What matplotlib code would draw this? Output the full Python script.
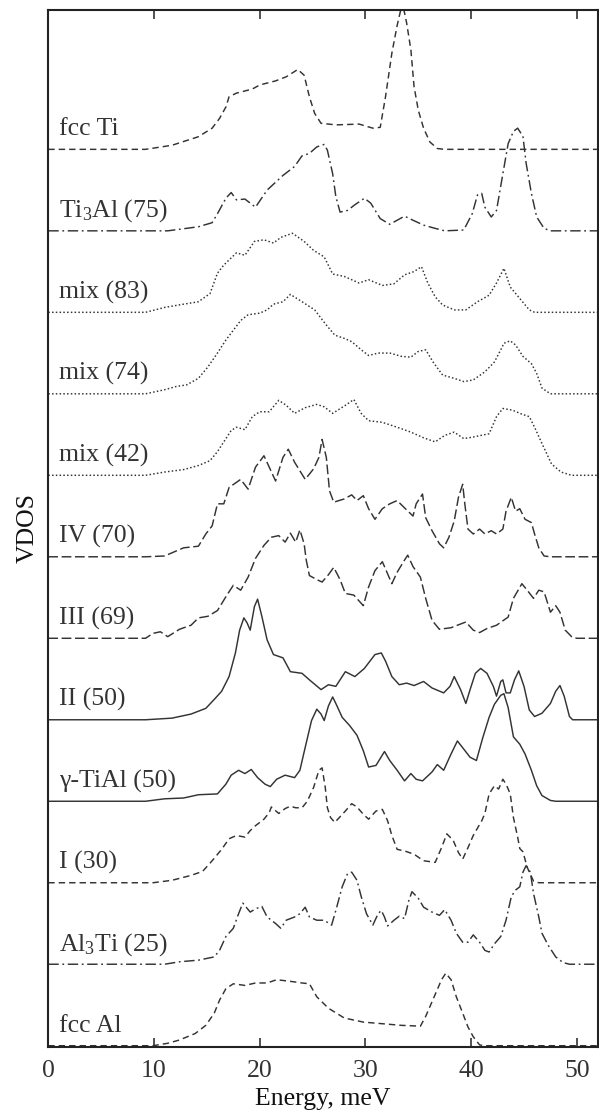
import numpy as np
import matplotlib
matplotlib.use("Agg")
import matplotlib.pyplot as plt

plt.rcParams['font.family'] = ['Liberation Serif', 'DejaVu Serif']
plt.rcParams['mathtext.fontset'] = 'custom'
plt.rcParams['mathtext.rm'] = 'Liberation Serif'
plt.rcParams['mathtext.it'] = 'Liberation Serif:italic'
plt.rcParams['lines.scale_dashes'] = False

# ---- data: (energy meV, VDOS in units of the stacking offset) ----
pts_fcc_ti = [(0,0),(9.2,0),(11.7,0.05),(14.2,0.155),(15.5,0.26),(16.2,0.38),(16.8,0.52),(17.1,0.645),(17.8,0.69),(19.3,0.74),(20.0,0.79),(21.5,0.84),(22.5,0.89),(23.6,0.98),(24.2,0.91),(24.7,0.645),(25.2,0.44),(25.8,0.32),(27.2,0.30),(29.4,0.31),(30.7,0.26),(31.4,0.27),(31.9,0.645),(32.5,1.18),(33.0,1.52),(33.5,1.80),(33.9,1.55),(34.3,1.22),(34.6,0.77),(35.0,0.48),(35.5,0.26),(36.1,0.09),(36.8,0.01),(37.5,0),(52,0)]

pts_ti3al = [(0,0),(11.3,0),(14.2,0.05),(15.5,0.10),(16.0,0.21),(16.8,0.40),(17.3,0.47),(17.8,0.38),(18.6,0.39),(19.6,0.29),(20.7,0.50),(22.2,0.68),(23.3,0.79),(24.0,0.92),(24.7,0.95),(25.4,1.03),(26.1,1.06),(26.4,0.99),(26.9,0.70),(27.2,0.42),(27.6,0.23),(28.3,0.25),(29.0,0.32),(29.9,0.40),(30.5,0.34),(31.4,0.15),(32.3,0.08),(33.0,0.13),(33.7,0.18),(34.5,0.13),(35.5,0.07),(36.6,0.03),(37.5,0),(39.3,0.01),(40.1,0.21),(40.6,0.44),(41.0,0.46),(41.3,0.29),(41.9,0.17),(42.4,0.25),(43.0,0.70),(43.5,1.07),(44.0,1.22),(44.4,1.26),(44.9,1.16),(45.2,0.83),(45.7,0.46),(46.2,0.17),(46.9,0.03),(47.5,0),(52,0)]

pts_mix83 = [(0,0),(9.2,0),(11.0,0.06),(12.8,0.10),(14.2,0.13),(15.3,0.23),(16.0,0.48),(16.6,0.58),(17.8,0.73),(18.6,0.70),(19.5,0.87),(20.4,0.89),(21.3,0.85),(22.0,0.92),(23.1,0.97),(24.2,0.87),(25.1,0.76),(26.1,0.68),(26.9,0.47),(28.0,0.44),(29.4,0.36),(30.3,0.40),(31.6,0.33),(32.7,0.35),(33.7,0.46),(34.6,0.50),(35.3,0.56),(35.9,0.36),(36.6,0.19),(37.3,0.09),(38.4,0.03),(39.5,0.03),(40.6,0.13),(41.7,0.21),(42.4,0.36),(43.1,0.54),(43.7,0.31),(44.6,0.17),(45.5,0.03),(46.0,0),(52,0)]

pts_mix74 = [(0,0),(9.2,0),(11.0,0.05),(12.1,0.09),(13.1,0.11),(14.2,0.19),(15.1,0.33),(16.0,0.50),(16.8,0.66),(17.5,0.78),(18.2,0.90),(18.9,0.97),(20.0,0.99),(20.7,1.03),(21.3,1.10),(22.2,1.13),(22.9,1.22),(24.0,1.13),(25.2,1.03),(26.2,0.86),(27.1,0.72),(28.0,0.68),(28.7,0.64),(29.6,0.54),(30.3,0.47),(31.2,0.50),(32.3,0.50),(33.4,0.46),(34.3,0.45),(35.0,0.52),(35.7,0.54),(36.4,0.39),(37.3,0.23),(38.4,0.19),(39.3,0.15),(40.2,0.17),(41.3,0.27),(42.2,0.39),(42.8,0.54),(43.1,0.62),(43.7,0.65),(44.2,0.60),(44.9,0.46),(45.7,0.37),(46.2,0.25),(46.7,0.07),(47.5,0),(52,0)]

pts_mix42 = [(0,0),(9.2,0),(11.0,0.04),(12.8,0.07),(14.2,0.12),(15.3,0.18),(16.0,0.29),(16.8,0.45),(17.3,0.55),(17.8,0.59),(18.6,0.56),(19.3,0.72),(20.0,0.78),(20.9,0.78),(21.8,0.92),(22.5,0.86),(23.3,0.76),(24.3,0.83),(25.4,0.87),(26.1,0.84),(26.9,0.76),(28.0,0.85),(28.9,0.93),(29.6,0.76),(30.3,0.67),(31.6,0.65),(33.0,0.59),(34.3,0.53),(35.5,0.46),(36.6,0.41),(37.5,0.49),(38.4,0.53),(39.3,0.45),(40.2,0.47),(41.7,0.51),(42.4,0.72),(43.0,0.82),(43.9,0.80),(44.8,0.75),(45.5,0.72),(46.0,0.59),(46.7,0.39),(47.6,0.14),(48.5,0.04),(49.5,0),(52,0)]

pts_iv = [(0,0),(9.2,0),(11.0,0.01),(12.8,0.11),(14.2,0.13),(14.9,0.28),(15.5,0.38),(16.0,0.65),(16.6,0.65),(17.1,0.85),(18.2,0.95),(18.9,0.83),(19.6,1.10),(20.4,1.24),(20.9,1.10),(21.5,0.93),(22.2,1.22),(22.7,1.32),(23.3,1.16),(24.3,0.95),(25.1,1.08),(25.6,1.22),(25.9,1.44),(26.3,1.22),(26.6,0.81),(27.0,0.67),(28.0,0.71),(28.7,0.76),(29.2,0.69),(29.8,0.75),(30.3,0.59),(30.9,0.46),(31.6,0.59),(32.3,0.65),(33.0,0.69),(33.7,0.60),(34.5,0.50),(34.8,0.65),(35.4,0.77),(35.7,0.48),(36.3,0.32),(37.0,0.16),(37.4,0.11),(37.9,0.24),(38.4,0.44),(38.8,0.73),(39.2,0.89),(39.4,0.65),(39.7,0.34),(40.2,0.28),(40.8,0.34),(41.3,0.28),(41.9,0.32),(42.4,0.28),(43.0,0.34),(43.3,0.56),(43.8,0.73),(44.2,0.56),(44.6,0.59),(45.1,0.46),(45.7,0.42),(46.0,0.28),(46.4,0.11),(46.9,0.01),(47.5,0),(52,0)]

pts_iii = [(0,0),(9.2,0),(9.9,0.06),(10.6,0.08),(11.3,0.02),(12.4,0.11),(13.5,0.16),(14.2,0.25),(15.1,0.27),(16.0,0.34),(16.8,0.51),(17.5,0.65),(18.2,0.59),(18.9,0.75),(19.6,0.98),(20.4,1.14),(21.1,1.24),(21.8,1.26),(22.4,1.18),(22.9,1.29),(23.4,1.18),(23.8,1.33),(24.2,1.16),(24.4,0.96),(24.7,0.77),(25.4,0.72),(25.9,0.69),(26.5,0.78),(27.0,0.87),(27.6,0.72),(28.1,0.55),(28.9,0.53),(29.8,0.40),(30.3,0.63),(30.9,0.83),(31.6,0.94),(32.1,0.79),(32.5,0.67),(33.0,0.81),(33.6,0.94),(34.0,1.02),(34.5,0.88),(35.2,0.75),(35.7,0.49),(36.3,0.22),(37.0,0.11),(38.1,0.13),(39.5,0.20),(40.2,0.10),(40.8,0.07),(41.5,0.12),(42.4,0.16),(43.5,0.26),(44.0,0.49),(44.8,0.67),(45.3,0.59),(45.9,0.49),(46.4,0.59),(46.9,0.57),(47.5,0.32),(48.0,0.40),(48.4,0.32),(48.9,0.10),(49.5,0.02),(50.0,0),(52,0)]

pts_ii = [(0,0),(9.2,0),(11.7,0.02),(13.5,0.07),(14.9,0.14),(15.7,0.25),(16.4,0.35),(17.1,0.53),(17.7,0.82),(18.1,1.10),(18.5,1.25),(18.8,1.19),(19.1,1.10),(19.5,1.39),(19.8,1.48),(20.2,1.27),(20.7,0.98),(21.3,0.80),(22.2,0.76),(22.9,0.59),(24.0,0.57),(24.7,0.49),(25.8,0.37),(26.5,0.43),(27.2,0.41),(28.1,0.59),(29.0,0.53),(29.9,0.63),(30.9,0.80),(31.5,0.82),(31.9,0.72),(32.5,0.53),(33.2,0.43),(33.9,0.45),(34.6,0.42),(35.5,0.47),(36.3,0.39),(37.4,0.33),(38.0,0.41),(38.4,0.53),(39.0,0.37),(39.5,0.20),(39.9,0.37),(40.4,0.57),(40.9,0.63),(41.5,0.57),(42.1,0.41),(42.4,0.29),(42.8,0.47),(43.0,0.49),(43.3,0.33),(43.7,0.33),(44.1,0.49),(44.5,0.60),(45.0,0.41),(45.5,0.12),(46.0,0.04),(46.7,0.08),(47.5,0.20),(48.0,0.35),(48.4,0.42),(48.8,0.29),(49.3,0.04),(49.6,0),(52,0)]

pts_gamma = [(0,0),(9.2,0),(11.0,0.03),(12.8,0.04),(14.2,0.08),(16.0,0.09),(16.8,0.21),(17.3,0.32),(18.0,0.38),(18.6,0.34),(19.2,0.39),(19.8,0.29),(20.5,0.21),(21.0,0.18),(21.6,0.27),(22.4,0.32),(23.3,0.29),(23.8,0.38),(24.3,0.66),(24.9,0.99),(25.4,1.13),(25.8,1.07),(26.1,0.99),(26.5,1.17),(26.9,1.28),(27.2,1.20),(27.8,1.03),(28.5,0.93),(29.2,0.81),(29.8,0.62),(30.3,0.42),(31.0,0.44),(31.8,0.61),(32.3,0.50),(33.0,0.38),(33.7,0.25),(34.3,0.34),(34.8,0.27),(35.4,0.25),(36.3,0.36),(36.8,0.45),(37.4,0.38),(38.1,0.58),(38.7,0.74),(39.3,0.64),(39.9,0.54),(40.5,0.50),(41.1,0.78),(41.7,1.03),(42.2,1.19),(42.8,1.30),(43.1,1.32),(43.5,1.15),(44.0,0.79),(44.6,0.70),(45.1,0.58),(45.7,0.38),(46.2,0.19),(46.7,0.07),(47.5,0.01),(48.0,0),(52,0)]

pts_i = [(0,0),(9.9,0),(11.7,0.03),(13.5,0.09),(14.6,0.14),(15.5,0.27),(16.4,0.41),(17.1,0.54),(17.8,0.58),(18.6,0.56),(19.1,0.64),(19.6,0.70),(20.4,0.78),(20.9,0.86),(21.1,0.93),(21.8,0.85),(22.4,0.91),(22.9,0.94),(23.4,0.92),(24.0,0.92),(24.5,1.00),(25.1,1.17),(25.6,1.38),(25.9,1.41),(26.2,1.17),(26.4,0.92),(26.7,0.80),(27.1,0.74),(27.6,0.81),(28.1,0.88),(28.7,0.97),(29.2,0.93),(29.8,0.84),(30.3,0.78),(31.0,0.88),(31.6,0.90),(32.1,0.76),(32.5,0.58),(33.0,0.41),(33.7,0.39),(34.6,0.35),(35.5,0.27),(36.6,0.25),(37.2,0.43),(37.7,0.60),(38.3,0.52),(38.8,0.37),(39.2,0.29),(39.7,0.43),(40.2,0.58),(41.0,0.76),(41.3,0.85),(41.7,1.09),(42.2,1.19),(42.6,1.15),(43.0,1.27),(43.3,1.21),(43.7,1.09),(44.0,0.80),(44.4,0.56),(44.6,0.42),(44.9,0.38),(45.3,0.19),(45.9,0.02),(46.4,0),(52,0)]

pts_al3ti = [(0,0),(11.0,0),(12.4,0.03),(14.2,0.05),(15.7,0.09),(16.2,0.17),(16.8,0.34),(17.5,0.44),(18.0,0.62),(18.4,0.75),(19.1,0.64),(19.6,0.68),(20.2,0.71),(20.7,0.58),(21.5,0.50),(22.0,0.44),(22.5,0.54),(23.3,0.58),(23.8,0.62),(24.3,0.70),(24.7,0.58),(25.4,0.54),(26.1,0.54),(26.8,0.48),(27.2,0.66),(27.8,0.95),(28.3,1.11),(28.7,1.13),(29.2,1.03),(29.6,0.83),(30.1,0.62),(30.7,0.48),(31.2,0.62),(31.5,0.66),(31.8,0.58),(32.1,0.47),(32.7,0.54),(33.2,0.59),(33.7,0.56),(34.1,0.78),(34.4,0.89),(35.0,0.81),(35.5,0.70),(36.3,0.64),(37.0,0.60),(37.5,0.67),(38.1,0.54),(38.6,0.38),(39.2,0.27),(39.7,0.27),(40.2,0.36),(40.8,0.27),(41.3,0.17),(41.7,0.15),(42.2,0.25),(42.8,0.34),(43.3,0.54),(43.8,0.83),(44.2,0.91),(44.6,0.95),(44.9,1.13),(45.2,1.21),(45.6,1.13),(45.9,0.87),(46.4,0.58),(46.7,0.38),(47.3,0.23),(48.0,0.09),(48.7,0.02),(49.3,0),(52,0)]

pts_fcc_al = [(0,0),(9.9,0),(11.3,0.03),(12.4,0.07),(13.9,0.15),(14.9,0.25),(15.7,0.40),(16.2,0.56),(16.8,0.70),(17.5,0.76),(18.6,0.74),(19.6,0.77),(20.7,0.77),(21.6,0.81),(22.9,0.79),(24.0,0.77),(24.7,0.76),(25.4,0.60),(26.5,0.46),(28.0,0.34),(29.8,0.29),(31.6,0.27),(33.4,0.25),(35.2,0.24),(35.7,0.36),(36.5,0.60),(37.2,0.81),(37.6,0.89),(38.1,0.81),(38.6,0.60),(39.2,0.40),(39.7,0.23),(40.2,0.11),(40.8,0.01),(41.3,0),(52,0)]

labels = ['fcc Al', r'Al$_{\mathrm{3}}$Ti (25)', 'I (30)', 'γ-TiAl (50)', 'II (50)',
          'III (69)', 'IV (70)', 'mix (42)', 'mix (74)', 'mix (83)',
          r'Ti$_{\mathrm{3}}$Al (75)', 'fcc Ti']
series = [pts_fcc_al, pts_al3ti, pts_i, pts_gamma, pts_ii, pts_iii, pts_iv,
          pts_mix42, pts_mix74, pts_mix83, pts_ti3al, pts_fcc_ti]
xticks = [0, 10, 20, 30, 40, 50]

# ---- styles ----
short_dash = (0, (4.6, 2.9))
long_dash = (0, (7.0, 2.6))
dash_dot = (0, (7.5, 2.6, 1.3, 2.6))
dotted = (0, (1.1, 1.6))
styles = [short_dash, dash_dot, short_dash, '-', '-', long_dash, long_dash,
          dotted, dotted, dotted, dash_dot, short_dash]

col = '#333333'
fig = plt.figure(figsize=(5.99, 11.11), dpi=100)
ax = fig.add_axes([48.3/599, 1 - 1046.7/1111, (598 - 48.3)/599, (1046.7 - 10)/1111])

for k, (pts, lab, ls) in enumerate(zip(series, labels, styles)):
    arr = np.array(pts, dtype=float)
    ax.plot(arr[:, 0], arr[:, 1] + k, color=col, lw=1.05, linestyle=ls)
    ax.text(1.0, k + 0.17, lab, fontsize=18.5, color=col, ha='left', va='baseline')

ax.set_xlim(0, 52)
ax.set_ylim(-0.012, 12.71)
ax.set_xticks(xticks)
ax.set_yticks([])
ax.tick_params(axis='x', direction='in', top=True, bottom=True, length=6.5,
               width=1.1, labelsize=18.5, pad=9.5, colors='#222222', labelcolor=col)
for s in ax.spines.values():
    s.set_linewidth(1.5)
    s.set_color('#222222')
ax.set_xlabel('Energy, meV', fontsize=18.5, color='#111111', labelpad=4.5)
ax.set_ylabel('VDOS', fontsize=18.5, color='#111111', labelpad=7)

fig.savefig('out.png', dpi=100)
